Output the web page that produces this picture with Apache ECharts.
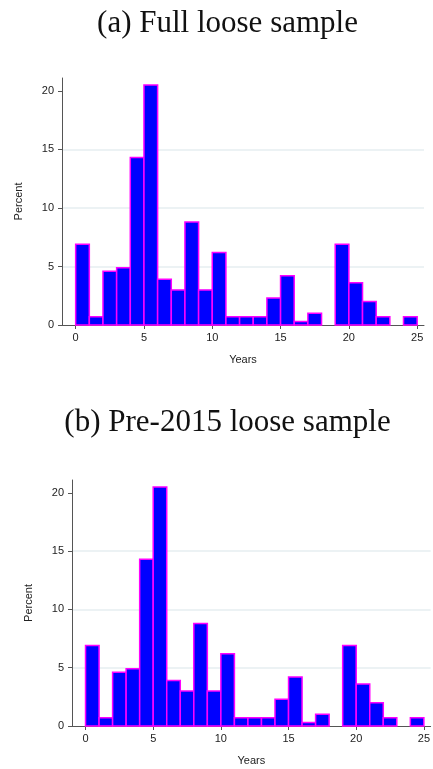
<!DOCTYPE html>
<html>
<head>
<meta charset="utf-8">
<script src="https://cdn.jsdelivr.net/npm/echarts@6/dist/echarts.min.js"></script>
<style>
  html, body { margin: 0; padding: 0; background: #fff; }
  #chart { width: 433px; height: 769px; }
</style>
</head>
<body>
<div id="chart"></div>
<script>
// bin starts (years), each bin is 1 year wide
var binStart = [0, 1, 2, 3, 4, 5, 6, 7, 8, 9, 10, 11, 12, 13, 14, 15, 16, 17, 18, 19, 20, 21, 22, 23, 24]
// percent per bin, full loose sample
var pctFull = [6.9, 0.7, 4.6, 4.9, 14.3, 20.5, 3.9, 3.0, 8.8, 3.0, 6.2, 0.7, 0.7, 0.7, 2.3, 4.2, 0.3, 1.0, 0, 6.9, 3.6, 2.0, 0.7, 0, 0.7]
// percent per bin, pre-2015 loose sample
var pctPre2015 = [6.9, 0.7, 4.6, 4.9, 14.3, 20.5, 3.9, 3.0, 8.8, 3.0, 6.2, 0.7, 0.7, 0.7, 2.3, 4.2, 0.3, 1.0, 0, 6.9, 3.6, 2.0, 0.7, 0, 0.7]
var xTicks = [0, 5, 10, 15, 20, 25]
var yTicks = [0, 5, 10, 15, 20]
var titles = ['(a) Full loose sample', '(b) Pre-2015 loose sample']

var chart = echarts.init(document.getElementById('chart'))

function toBins (values) {
    var out = []
    for (var i = 0; i < binStart.length; i++) {
        if (values[i] > 0) out.push([binStart[i], binStart[i] + 1, values[i]])
    }
    return out
}

function renderBar (params, api) {
    var p0 = api.coord([api.value(0), api.value(2)])
    var p1 = api.coord([api.value(1), 0])
    return {
        type: 'rect',
        shape: { x: p0[0], y: p0[1], width: p1[0] - p0[0], height: p1[1] - p0[1] },
        style: { fill: '#0000ff', stroke: '#ff00ff', lineWidth: 1.5 }
    }
}

var axisColor = '#555'
var labelFont = { color: '#222', fontSize: 11, fontFamily: 'Liberation Sans' }

function xAxis (idx) {
    return {
        type: 'value', gridIndex: idx, min: -1, max: 25.5,
        name: 'Years', nameLocation: 'middle', nameGap: 29,
        nameTextStyle: { color: '#222', fontSize: 11, fontFamily: 'Liberation Sans' },
        axisLine: { show: true, onZero: false, lineStyle: { color: axisColor, width: 1 } },
        axisTick: { show: true, length: 4, customValues: xTicks, lineStyle: { color: axisColor } },
        axisLabel: Object.assign({ customValues: xTicks, margin: 7 }, labelFont),
        splitLine: { show: false }
    }
}

function yAxis (idx) {
    return {
        type: 'value', gridIndex: idx, min: 0, max: 21.1, interval: 5,
        name: 'Percent', nameLocation: 'middle', nameGap: 38,
        nameTextStyle: { color: '#222', fontSize: 11, fontFamily: 'Liberation Sans' },
        axisLine: { show: true, onZero: false, lineStyle: { color: axisColor, width: 1 } },
        axisTick: { show: true, length: 4, customValues: yTicks, lineStyle: { color: axisColor } },
        axisLabel: Object.assign({ customValues: yTicks, margin: 8 }, labelFont),
        splitLine: { show: true, showMinLine: false, showMaxLine: false, lineStyle: { color: '#e6eef1', width: 1.5 } }
    }
}

var option = {
    backgroundColor: '#fff',
    animation: false,
    graphic: [
        { type: 'text', x: 227.5, y: 24, style: { text: titles[0], font: '31px "Liberation Serif"', fill: '#111', align: 'center', verticalAlign: 'middle' } },
        { type: 'text', x: 227.5, y: 423, style: { text: titles[1], font: '31px "Liberation Serif"', fill: '#111', align: 'center', verticalAlign: 'middle' } }
    ],
    grid: [
        { left: 62, top: 78, width: 362, height: 247 },
        { left: 72, top: 480, width: 362, height: 246 }
    ],
    xAxis: [xAxis(0), xAxis(1)],
    yAxis: [yAxis(0), yAxis(1)],
    series: [
        { type: 'custom', xAxisIndex: 0, yAxisIndex: 0, renderItem: renderBar, data: toBins(pctFull), encode: { x: [0, 1], y: 2 } },
        { type: 'custom', xAxisIndex: 1, yAxisIndex: 1, renderItem: renderBar, data: toBins(pctPre2015), encode: { x: [0, 1], y: 2 } }
    ]
}
chart.setOption(option, true)
</script>
</body>
</html>
